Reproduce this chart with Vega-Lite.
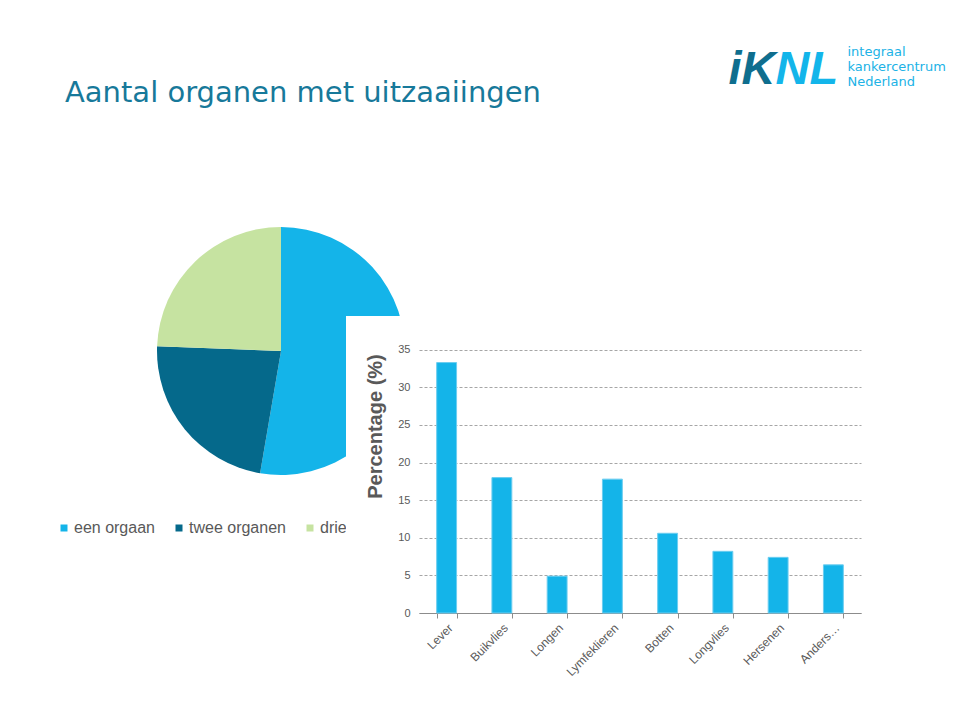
{
  "$schema": "https://vega.github.io/schema/vega-lite/v6.json",
  "background": "white",
  "padding": {"left": 56, "top": 45, "right": 0, "bottom": 0},
  "config": {
    "view": {"stroke": null},
    "font": "Liberation Sans",
    "axis": {"labelFont": "Liberation Sans", "titleFont": "Liberation Sans"},
    "legend": {"labelFont": "Liberation Sans"}
  },
  "title": {
    "text": "Aantal organen met uitzaaiingen",
    "anchor": "start",
    "frame": "bounds",
    "dx": 9,
    "offset": -86,
    "baseline": "alphabetic",
    "font": "DejaVu Sans",
    "fontSize": 29,
    "fontWeight": "normal",
    "color": "#17799a"
  },
  "bounds": "flush",
  "spacing": 0,
  "resolve": {"scale": {"color": "independent"}, "legend": {"color": "independent"}},
  "hconcat": [
    {
      "width": 189,
      "height": 297,
      "data": {"values": [
        {"groep": "een orgaan", "pct": 52.7, "volgorde": 1},
        {"groep": "twee organen", "pct": 22.9, "volgorde": 2},
        {"groep": "drie organen", "pct": 24.4, "volgorde": 3}
      ]},
      "mark": {"type": "arc", "radius": 124},
      "encoding": {
        "theta": {"field": "pct", "type": "quantitative", "stack": true},
        "order": {"field": "volgorde", "type": "quantitative"},
        "color": {
          "field": "groep",
          "type": "nominal",
          "scale": {
            "domain": ["een orgaan", "twee organen", "drie organen"],
            "range": ["#14b4e9", "#05698b", "#c6e3a1"]
          },
          "legend": {
            "orient": "none",
            "legendX": -101,
            "legendY": 204,
            "direction": "horizontal",
            "title": null,
            "padding": 0,
            "symbolType": "square",
            "symbolSize": 49,
            "symbolStrokeWidth": 0,
            "labelFontSize": 16,
            "labelColor": "#595959",
            "labelOffset": 2,
            "columnPadding": 16,
            "labelLimit": 200,
            "labelExpr": "datum.label == 'drie organen' ? 'drie' : datum.label"
          }
        },
        "x": {
          "datum": 0,
          "type": "quantitative",
          "scale": {"domain": [-124, 65], "nice": false, "zero": false},
          "axis": {
            "title": "iK",
            "domain": false, "ticks": false, "labels": false, "grid": false,
            "titleX": 571, "titleY": -530,
            "titleAlign": "left", "titleBaseline": "alphabetic", "titleAngle": 0,
            "titleFontSize": 47, "titleFontWeight": "bold", "titleFontStyle": "italic",
            "titleColor": "#0f6e8e"
          }
        },
        "y": {
          "datum": 0,
          "type": "quantitative",
          "scale": {"domain": [-262, 35], "nice": false, "zero": false},
          "axis": {
            "title": ["integraal", "kankercentrum", "Nederland"],
            "domain": false, "ticks": false, "labels": false, "grid": false,
            "titleX": 690, "titleY": -261,
            "titleAlign": "left", "titleBaseline": "alphabetic", "titleAngle": 0,
            "titleFont": "DejaVu Sans",
            "titleFontSize": 13, "titleLineHeight": 15, "titleFontWeight": "normal",
            "titleColor": "#20b2e6"
          }
        }
      }
    },
    {
      "width": 515,
      "height": 297,
      "view": {"fill": "white", "stroke": null},
      "data": {"values": [
        {"orgaan": "Lever", "percentage": 33.3},
        {"orgaan": "Buikvlies", "percentage": 18.0},
        {"orgaan": "Longen", "percentage": 4.9},
        {"orgaan": "Lymfeklieren", "percentage": 17.8},
        {"orgaan": "Botten", "percentage": 10.6},
        {"orgaan": "Longvlies", "percentage": 8.2},
        {"orgaan": "Hersenen", "percentage": 7.4},
        {"orgaan": "Anders…", "percentage": 6.4}
      ]},
      "mark": {"type": "bar", "color": "#14b4e9", "stroke": "#6ccdf0", "strokeWidth": 1},
      "encoding": {
        "x": {
          "field": "orgaan",
          "type": "nominal",
          "sort": null,
          "scale": {"range": [73, 515], "paddingInner": 0.64, "paddingOuter": 0.32},
          "axis": {
            "title": "NL",
            "titleX": 429, "titleY": -530,
            "titleAlign": "left", "titleBaseline": "alphabetic", "titleAngle": 0,
            "titleFontSize": 47, "titleFontWeight": "bold", "titleFontStyle": "italic",
            "titleColor": "#13b5ea",
            "labelAngle": -45,
            "labelAlign": "right",
            "labelBaseline": "top",
            "labelFontSize": 12,
            "labelColor": "#595959",
            "labelPadding": 4,
            "tickBand": "extent",
            "tickSize": 5,
            "tickColor": "#8c8c8c",
            "domainColor": "#8c8c8c",
            "grid": false
          }
        },
        "y": {
          "field": "percentage",
          "type": "quantitative",
          "scale": {"domain": [0, 39.49], "nice": false},
          "axis": {
            "title": "Percentage (%)",
            "orient": "left",
            "offset": -73,
            "values": [0, 5, 10, 15, 20, 25, 30, 35],
            "domain": false,
            "ticks": false,
            "labelFontSize": 11,
            "labelColor": "#595959",
            "labelPadding": 9,
            "grid": true,
            "gridColor": "#a6a6a6",
            "gridDash": [3, 2],
            "gridWidth": 1,
            "titleX": -44, "titleY": 110,
            "titleAngle": 270,
            "titleAlign": "center",
            "titleBaseline": "middle",
            "titleFontSize": 20,
            "titleFontWeight": "bold",
            "titleColor": "#595959"
          }
        }
      }
    }
  ]
}
